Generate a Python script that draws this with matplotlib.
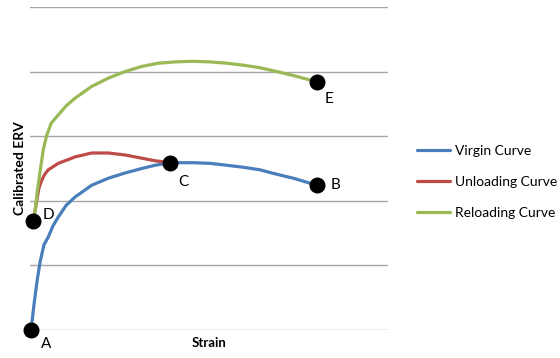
import matplotlib.pyplot as plt

plt.rcParams['font.family'] = ['Lato', 'DejaVu Sans']

# virgin curve A -> C -> B
virgin_x = [0.03, 0.11, 0.20, 0.28, 0.39, 0.51, 0.64, 0.79, 1.01, 1.26, 1.72, 2.19, 2.65, 3.12, 3.49,
            3.91, 4.55, 5.03, 5.50, 5.95, 6.42, 6.90, 7.35, 8.02]
virgin_y = [0.00, 0.39, 0.77, 1.05, 1.32, 1.44, 1.61, 1.75, 1.93, 2.06, 2.24, 2.35, 2.43, 2.50, 2.55,
            2.59, 2.59, 2.58, 2.55, 2.52, 2.48, 2.41, 2.35, 2.24]

# unloading curve D -> C
unload_x = [0.09, 0.19, 0.25, 0.33, 0.41, 0.51, 0.79, 1.26, 1.72, 2.19, 2.65, 3.12, 3.49, 3.91]
unload_y = [1.68, 2.01, 2.20, 2.32, 2.41, 2.48, 2.58, 2.68, 2.74, 2.74, 2.71, 2.66, 2.62, 2.59]

# reloading curve D -> E
reload_x = [0.09, 0.14, 0.21, 0.28, 0.37, 0.47, 0.59, 0.79, 1.01, 1.26, 1.72, 2.19, 2.65, 3.12, 3.58,
            4.05, 4.55, 5.03, 5.50, 5.95, 6.42, 6.90, 7.35, 8.02]
reload_y = [1.68, 1.83, 2.17, 2.45, 2.79, 3.02, 3.20, 3.33, 3.47, 3.59, 3.77, 3.90, 4.00, 4.08, 4.13,
            4.15, 4.16, 4.15, 4.13, 4.10, 4.06, 4.00, 3.94, 3.84]

point_names = ['A', 'B', 'C', 'D', 'E']
point_x = [0.03, 8.02, 3.91, 0.09, 8.02]
point_y = [0.00, 2.24, 2.59, 1.68, 3.84]
label_off = [(7, -10), (10, 0), (6, -14), (7, 5), (5, -12)]

fig = plt.figure(figsize=(5.6, 3.58), dpi=100)
ax = fig.add_axes([0.0536, 0.0782, 0.6394, 0.9022])

for yv in range(6):
    ax.axhline(yv, color='#a6a6a6', lw=1, zorder=1)

l1, = ax.plot(virgin_x, virgin_y, color='#4a7ebb', lw=2.3, label='Virgin Curve', zorder=2,
              solid_capstyle='round', solid_joinstyle='round')
l2, = ax.plot(unload_x, unload_y, color='#be4b48', lw=2.3, label='Unloading Curve', zorder=2,
              solid_capstyle='round', solid_joinstyle='round')
l3, = ax.plot(reload_x, reload_y, color='#98b954', lw=2.3, label='Reloading Curve', zorder=2,
              solid_capstyle='round', solid_joinstyle='round')

ax.plot(point_x, point_y, 'o', color='black', ms=10.5, zorder=3, clip_on=False)
for name, px, py, off in zip(point_names, point_x, point_y, label_off):
    ax.annotate(name, (px, py), xytext=off, textcoords='offset points',
                ha='left', va='center', fontsize=11)

ax.set_xlim(0, 10)
ax.set_ylim(0, 5)
ax.set_xticks([])
ax.set_yticks([])
for s in ax.spines.values():
    s.set_visible(False)

ax.text(0.5, -0.04, 'Strain', transform=ax.transAxes, ha='center', va='center',
        fontsize=9.5, fontweight='bold')
ax.text(-0.028, 0.50, 'Calibrated ERV', transform=ax.transAxes, ha='center', va='center',
        rotation=90, fontsize=10, fontweight='bold')

fig.legend(handles=[l1, l2, l3], loc='center left', bbox_to_anchor=(0.735, 0.492),
           frameon=False, fontsize=10, handlelength=2.4, handletextpad=0.3,
           labelspacing=1.35, borderaxespad=0)

fig.savefig('out.png', dpi=100)
